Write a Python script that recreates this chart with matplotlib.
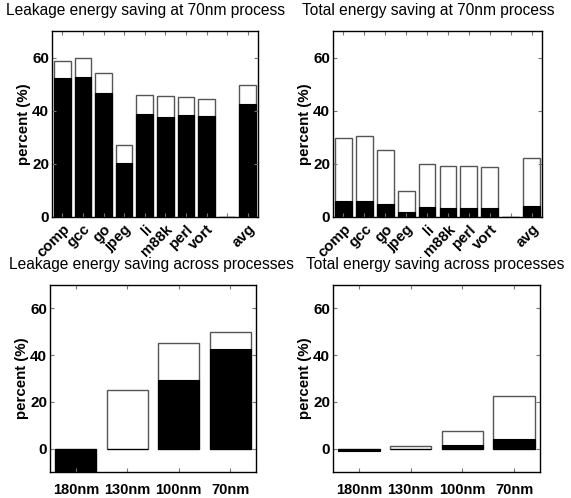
import numpy as np
import matplotlib
matplotlib.use("Agg")
import matplotlib.pyplot as plt

plt.rcParams['font.family'] = ['Liberation Sans', 'DejaVu Sans']

# benchmark data at 70nm
bench = ['comp', 'gcc', 'go', 'jpeg', 'li', 'm88k', 'perl', 'vort', '', 'avg']
leak_total = [58.6, 59.8, 54.3, 27.0, 45.9, 45.6, 45.3, 44.4, 0, 49.7]
leak_black = [52.2, 52.8, 46.8, 20.4, 38.8, 37.5, 38.4, 37.9, 0, 42.6]
tot_total = [29.8, 30.4, 25.3, 9.6, 19.9, 19.2, 19.2, 18.7, 0, 22.3]
tot_black = [6.0, 6.1, 4.7, 1.6, 3.5, 3.3, 3.4, 3.2, 0, 4.0]

# across processes
procs = ['180nm', '130nm', '100nm', '70nm']
pleak_total = [-12.0, 25.1, 45.3, 49.8]
pleak_black = [-12.0, -0.3, 29.3, 42.7]
ptot_total = [-0.5, 1.3, 7.7, 22.3]
ptot_black = [-1.0, 0.0, 1.7, 4.1]

fig = plt.figure(figsize=(5.71, 4.98), dpi=100)

def draw(ax, labels, total, black, ylo, rot):
    x = np.arange(1, len(labels) + 1)
    ax.bar(x, total, width=0.8, color='white', edgecolor='#555555', linewidth=1.0)
    ax.bar(x, black, width=0.8, color='black', edgecolor='black', linewidth=0.8)
    ax.set_xlim(0.5, len(labels) + 0.5)
    ax.set_ylim(ylo, 70)
    ax.set_yticks([0, 20, 40, 60])
    ax.set_xticks(x)
    ax.tick_params(direction='in', length=3, color='#777777', top=True, right=True,
                   pad=2)
    if rot:
        ax.set_xticklabels(labels, rotation=45, ha='right', rotation_mode='anchor',
                           fontsize=10.8, fontweight='bold')
        ax.tick_params(axis='x', pad=4)
    else:
        ax.set_xticklabels(labels, fontsize=10.5, fontweight='bold')
        ax.tick_params(axis='x', pad=8)
    for t in ax.get_yticklabels():
        t.set_fontsize(11)
        t.set_fontweight('bold')
    ax.set_ylabel('percent (%)', fontsize=10.8, fontweight='bold', labelpad=1)
    for s in ax.spines.values():
        s.set_linewidth(1.0)

ax1 = fig.add_axes([52/571, 1-216.7/498, 206/571, 185.7/498])
draw(ax1, bench, leak_total, leak_black, 0, True)
ax2 = fig.add_axes([333/571, 1-216.7/498, 209/571, 185.7/498])
draw(ax2, bench, tot_total, tot_black, 0, True)
ax3 = fig.add_axes([50/571, 1-472/498, 206/571, 187/498])
draw(ax3, procs, pleak_total, pleak_black, -10, False)
ax4 = fig.add_axes([333/571, 1-472/498, 207/571, 187/498])
draw(ax4, procs, ptot_total, ptot_black, -10, False)

fig.text(146/571, 1-10/498, 'Leakage energy saving at 70nm process', ha='center', va='center', fontsize=11.2)
fig.text(428/571, 1-10/498, 'Total energy saving at 70nm process', ha='center', va='center', fontsize=11.2)
fig.text(151/571, 1-265/498, 'Leakage energy saving across processes', ha='center', va='center', fontsize=11.2)
fig.text(435/571, 1-265/498, 'Total energy saving across processes', ha='center', va='center', fontsize=11.2)

fig.savefig('out.png', dpi=100)
